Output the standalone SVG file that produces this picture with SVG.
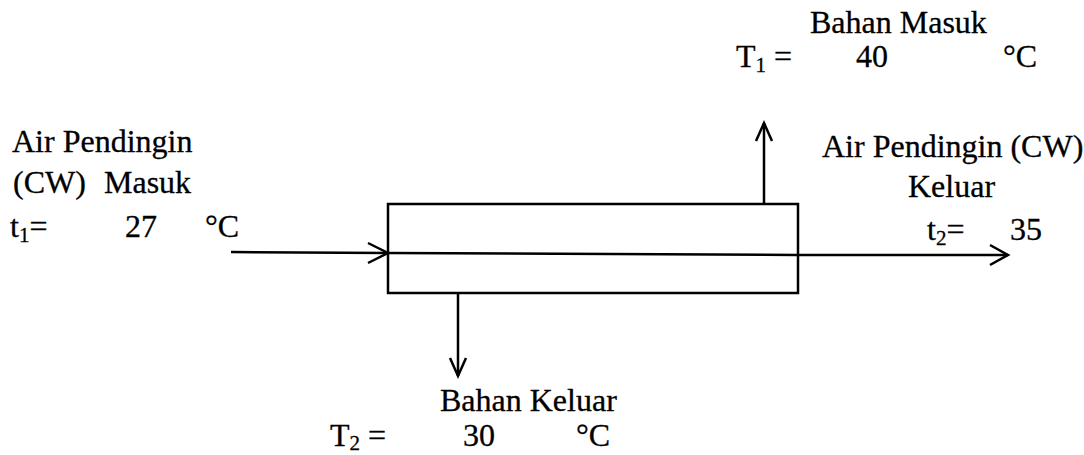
<svg xmlns="http://www.w3.org/2000/svg" width="1084" height="455" viewBox="0 0 1084 455">
<style>
text{font-family:"Liberation Serif","Times New Roman",serif;font-size:32px;fill:#000;stroke:#000;stroke-width:0.3}
.sub{font-size:21px}
.ln{stroke:#000;stroke-width:2.5;fill:none}
.hd{stroke:#000;stroke-width:2.5;fill:none;stroke-linejoin:miter}
</style>
<rect width="1084" height="455" fill="#fff"/>
<g id="exchanger">
<rect x="388" y="204" width="410" height="89" class="ln"/>
</g>
<g id="connectors">
<line x1="231" y1="252" x2="388" y2="253" class="ln"/>
<polyline points="368,243 388,253 368,263" class="hd"/>
<line x1="388" y1="253" x2="798" y2="255" class="ln"/>
<line x1="798" y1="255" x2="1008" y2="255" class="ln"/>
<polyline points="990,245 1008,255 990,265" class="hd"/>
<line x1="764" y1="204" x2="764" y2="123" class="ln"/>
<polyline points="756,141 764,123 772,141" class="hd"/>
<line x1="458" y1="293" x2="458" y2="376" class="ln"/>
<polyline points="450,358 458,376 466,358" class="hd"/>
</g>
<g id="cw-in">
<text x="12" y="152">Air Pendingin</text>
<text x="13" y="193">(CW)</text>
<text x="104" y="193">Masuk</text>
<text x="10" y="237">t<tspan class="sub" dy="5">1</tspan><tspan dy="-5">=</tspan></text>
<text x="125" y="237">27</text>
<text x="205" y="237">°C</text>
</g>
<g id="bahan-in">
<text x="810" y="33">Bahan Masuk</text>
<text x="736" y="67">T<tspan class="sub" dy="5">1</tspan><tspan dy="-5"> =</tspan></text>
<text x="856" y="67">40</text>
<text x="1003" y="67">°C</text>
</g>
<g id="cw-out">
<text x="822" y="157">Air Pendingin (CW)</text>
<text x="908" y="197">Keluar</text>
<text x="927" y="240">t<tspan class="sub" dy="5">2</tspan><tspan dy="-5">=</tspan></text>
<text x="1010" y="240">35</text>
</g>
<g id="bahan-out">
<text x="440" y="411">Bahan Keluar</text>
<text x="330" y="446">T<tspan class="sub" dy="4">2</tspan><tspan dy="-4"> =</tspan></text>
<text x="463" y="446">30</text>
<text x="576" y="446">°C</text>
</g>
</svg>
